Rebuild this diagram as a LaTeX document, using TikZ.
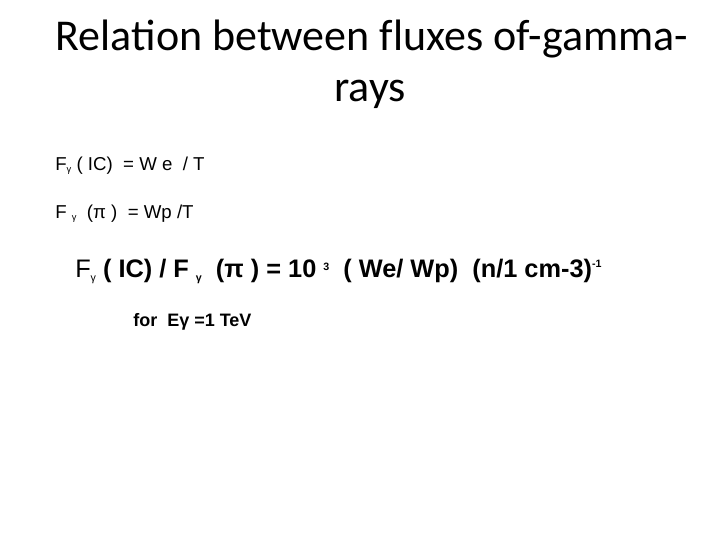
\documentclass[tikz,border=0pt]{standalone}
\usepackage{fontspec}
\setmainfont{Liberation Sans}
\newfontfamily\titlefont{Carlito}
\begin{document}
\begin{tikzpicture}[x=0.75pt,y=-0.75pt,
  txt/.style={anchor=base west,inner sep=0pt},
  ttl/.style={anchor=base,inner sep=0pt,font=\titlefont\fontsize{33}{39}\selectfont}]
\useasboundingbox (0,0) rectangle (720,540);
\node[ttl] (t1) at (372,50) {Relation between f\kern0ptluxes of-gamma-};
\node[ttl] (t2) at (370,101) {rays};
\node[txt,font=\fontsize{14}{16}\selectfont] (l1) at (55,170) {F\raisebox{-2pt}{\scriptsize γ} ( IC)\ \ = W e\ \ / T};
\node[txt,font=\fontsize{14}{16}\selectfont] (l2) at (55,218) {F\ \raisebox{-2pt}{\scriptsize γ}\ \ (π )\ \ = Wp /T};
\node[txt,font=\bfseries\fontsize{19}{22}\selectfont] (l3) at (75,277) {\mdseries F\raisebox{-3pt}{\footnotesize γ}\bfseries{} ( IC) / F \raisebox{-3pt}{\footnotesize γ}\ \ (π ) = 10 \raisebox{5pt}{\footnotesize 3}\ \ ( We/ Wp)\ \ (n/1 cm-3)\raisebox{7pt}{\footnotesize -1}};
\node[txt,font=\bfseries\fontsize{13.5}{16}\selectfont] (l4) at (133,326) {for\ \ Eγ =1 TeV};
\end{tikzpicture}
\end{document}
